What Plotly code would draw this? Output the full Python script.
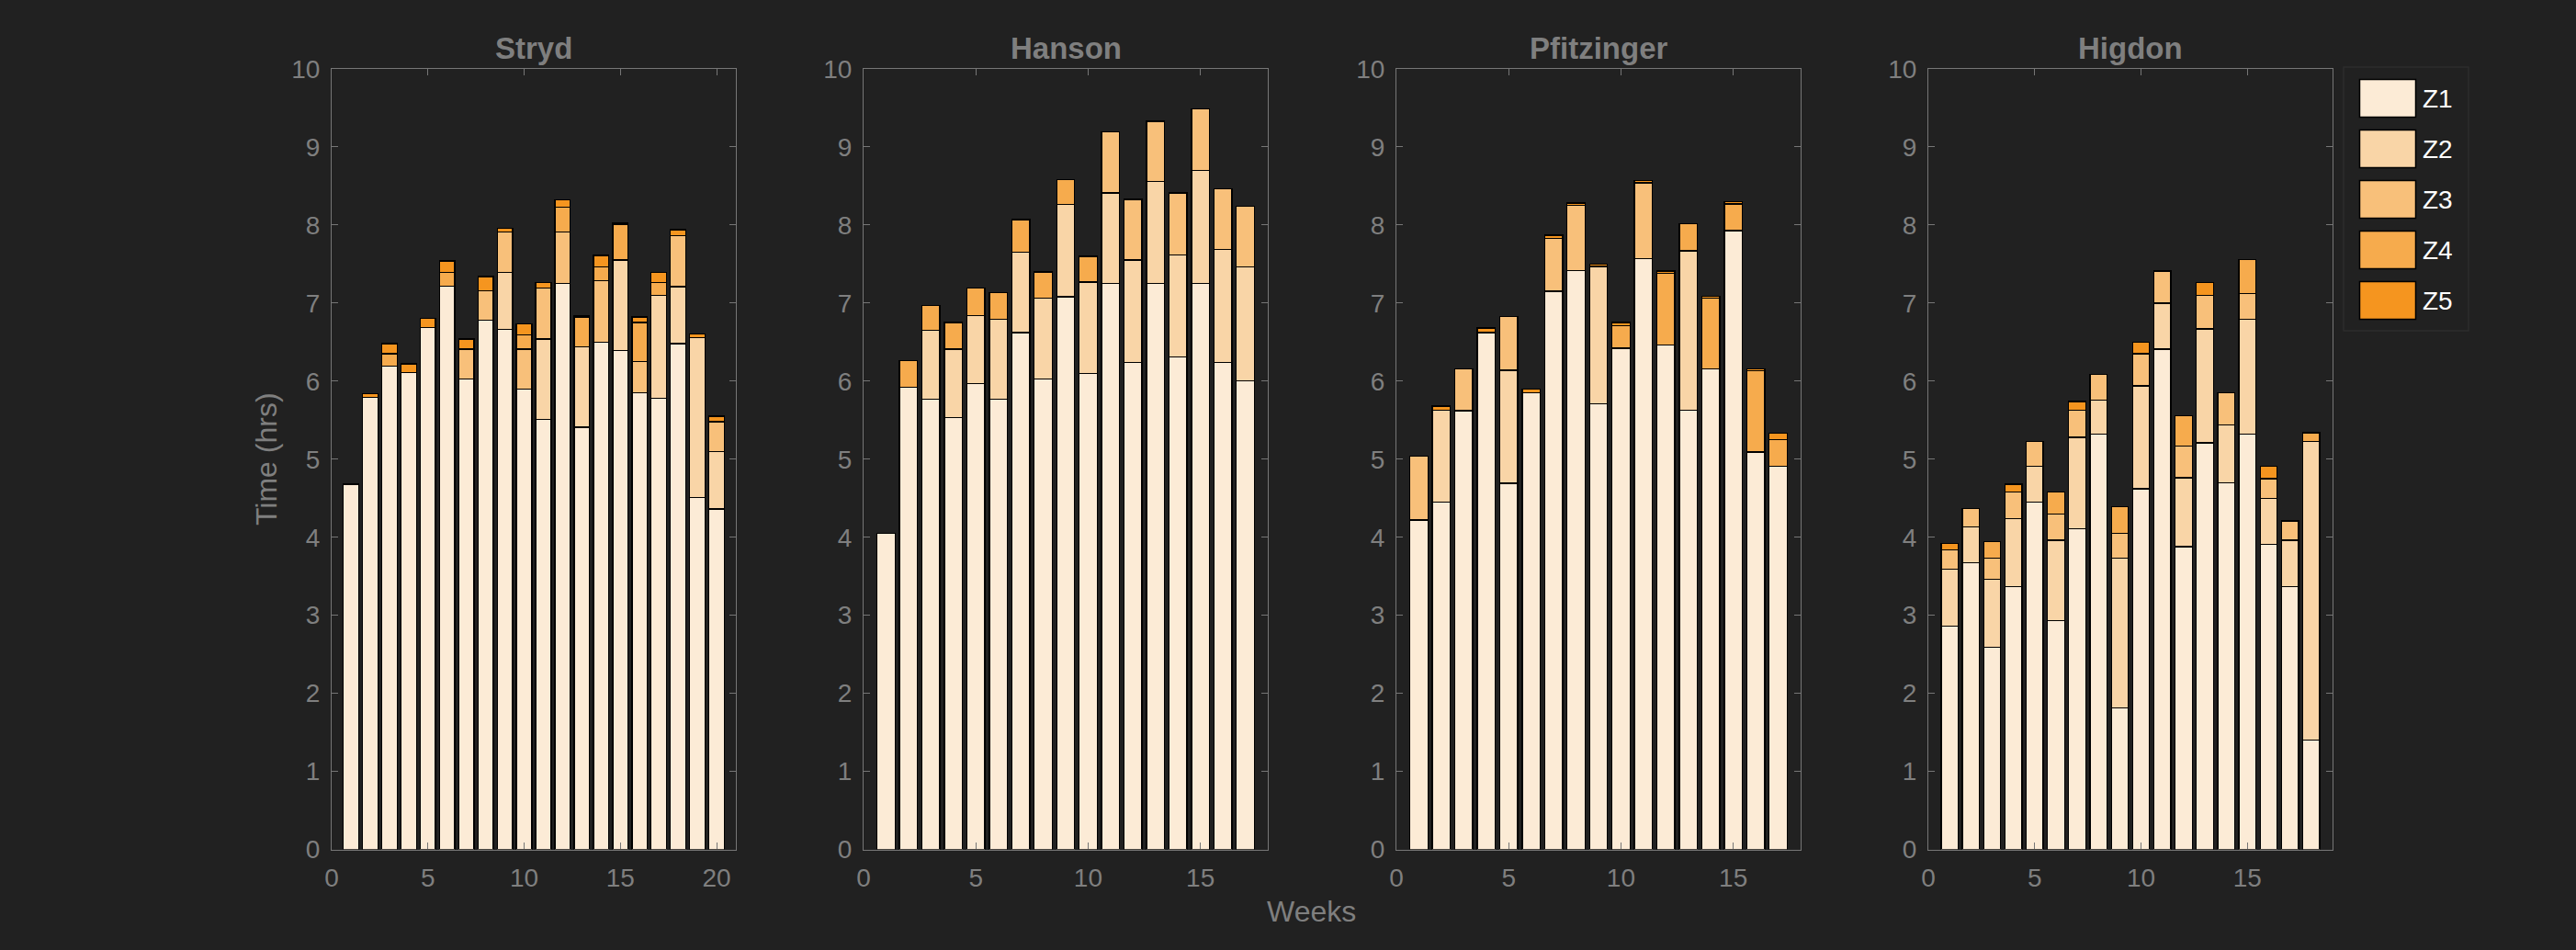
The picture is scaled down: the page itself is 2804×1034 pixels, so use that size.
import plotly.graph_objects as go

W, H = 2804, 1034

zones = ["Z1", "Z2", "Z3", "Z4", "Z5"]
zone_colors = ["#FCEBD6", "#F9D5A7", "#F8C07A", "#F6AB4D", "#F5951F"]

plan_names = ["Stryd", "Hanson", "Pfitzinger", "Higdon"]

stryd_z1 = [4.68, 5.79, 6.19, 6.11, 6.69, 7.22, 6.03, 6.78, 6.66, 5.90, 5.51, 7.25, 5.41, 6.50, 6.39, 5.85, 5.78, 6.48, 4.51, 4.36]
stryd_z2 = [0, 0, 0, 0, 0, 0, 0, 0, 0.73, 0, 1.03, 0, 1.03, 0, 1.16, 0, 1.32, 0.73, 2.05, 0.74]
stryd_z3 = [0, 0, 0, 0, 0, 0, 0.38, 0.38, 0.52, 0.51, 0.65, 0.66, 0, 0.79, 0, 0.40, 0, 0.65, 0, 0.38]
stryd_z4 = [0, 0, 0.16, 0, 0, 0.17, 0, 0, 0, 0.18, 0, 0.32, 0.38, 0.17, 0.46, 0.50, 0.16, 0, 0, 0]
stryd_z5 = [0, 0.05, 0.13, 0.11, 0.11, 0.15, 0.13, 0.18, 0.05, 0.14, 0.07, 0.09, 0.02, 0.15, 0.02, 0.07, 0.13, 0.08, 0.04, 0.07]

hanson_z1 = [4.05, 5.92, 5.77, 5.53, 5.97, 5.77, 6.62, 6.03, 7.08, 6.10, 7.25, 6.24, 7.25, 6.31, 7.25, 6.24, 6.00]
hanson_z2 = [0, 0, 0.88, 0.88, 0.87, 1.02, 1.03, 1.03, 1.18, 1.17, 1.16, 1.31, 1.31, 1.31, 1.45, 1.45, 1.46]
hanson_z3 = [0, 0, 0, 0, 0, 0, 0, 0, 0, 0, 0.78, 0.78, 0.77, 0.79, 0.79, 0.77, 0.78]
hanson_z4 = [0, 0.34, 0.32, 0.34, 0.35, 0.34, 0.42, 0.34, 0.32, 0.33, 0, 0, 0, 0, 0, 0, 0]
hanson_z5 = [0] * 17

pfitz_z1 = [4.22, 4.45, 5.62, 6.62, 4.69, 5.85, 7.15, 7.42, 5.71, 6.42, 7.57, 6.46, 5.63, 6.16, 7.93, 5.09, 4.91]
pfitz_z2 = [0, 1.18, 0, 0, 1.45, 0, 0, 0, 1.76, 0, 0, 0, 2.04, 0, 0, 0, 0]
pfitz_z3 = [0.82, 0, 0.54, 0, 0.69, 0, 0.68, 0.83, 0, 0, 0.97, 0, 0, 0, 0, 0, 0]
pfitz_z4 = [0, 0, 0, 0, 0, 0, 0, 0, 0, 0.29, 0, 0.92, 0.35, 0.90, 0.34, 1.04, 0.34]
pfitz_z5 = [0, 0.05, 0, 0.06, 0, 0.05, 0.04, 0.03, 0.03, 0.04, 0.03, 0.03, 0, 0.03, 0.03, 0.03, 0.08]

higdon_z1 = [2.86, 3.67, 2.59, 3.37, 4.45, 2.93, 4.11, 5.32, 1.81, 4.62, 6.41, 3.88, 5.21, 4.70, 5.32, 3.91, 3.37, 1.40]
higdon_z2 = [0.73, 0.46, 0.87, 0.87, 0.46, 1.03, 1.17, 0.44, 1.92, 1.32, 0.59, 0.88, 1.46, 0.74, 1.47, 0.59, 0.59, 3.83]
higdon_z3 = [0.25, 0.24, 0.27, 0.34, 0.32, 0.34, 0.35, 0.33, 0.32, 0.41, 0.41, 0.41, 0.43, 0.41, 0.33, 0.25, 0.25, 0]
higdon_z4 = [0, 0, 0.21, 0, 0, 0.28, 0, 0, 0.34, 0, 0, 0.39, 0, 0, 0.44, 0, 0, 0.11]
higdon_z5 = [0.08, 0, 0, 0.10, 0, 0, 0.11, 0, 0, 0.15, 0, 0, 0.16, 0, 0, 0.16, 0, 0]

x_limits = [21, 18, 18, 19]
x_tick_vals = [0, 5, 10, 15, 20]
y_tick_vals = list(range(0, 11))

plans = [
    [stryd_z1, stryd_z2, stryd_z3, stryd_z4, stryd_z5],
    [hanson_z1, hanson_z2, hanson_z3, hanson_z4, hanson_z5],
    [pfitz_z1, pfitz_z2, pfitz_z3, pfitz_z4, pfitz_z5],
    [higdon_z1, higdon_z2, higdon_z3, higdon_z4, higdon_z5],
]

# pixel layout
px_left = [361, 940, 1520, 2099]
px_width = 440
px_top, px_bottom = 75, 924.5

BG = "#212121"
AX = "#767676"
TXT = "#7f7f7f"
FONT = "Liberation Sans, Arial, Helvetica, sans-serif"

fig = go.Figure()

for i, (name, series) in enumerate(zip(plan_names, plans)):
    xa = "x" if i == 0 else f"x{i+1}"
    ya = "y" if i == 0 else f"y{i+1}"
    weeks = list(range(1, len(series[0]) + 1))
    for z, vals, col in zip(zones, series, zone_colors):
        fig.add_trace(go.Bar(
            x=weeks,
            y=[v if v > 0 else None for v in vals],
            name=z,
            marker=dict(color=col, line=dict(color="#000000", width=1.3)),
            width=0.8,
            xaxis=xa, yaxis=ya,
            showlegend=False,
        ))
    dom_x = [px_left[i] / W, (px_left[i] + px_width) / W]
    dom_y = [1 - px_bottom / H, 1 - px_top / H]
    axis_common = dict(
        showline=True, linecolor=AX, linewidth=1.2, mirror="ticks",
        ticks="inside", ticklen=7, tickwidth=1.2, tickcolor=AX,
        showgrid=False, zeroline=False, automargin=False,
        tickfont=dict(family=FONT, size=28, color=TXT),
        ticklabelstandoff=6,
    )
    xkey = "xaxis" if i == 0 else f"xaxis{i+1}"
    ykey = "yaxis" if i == 0 else f"yaxis{i+1}"
    fig.update_layout(**{
        xkey: dict(domain=dom_x, range=[0, x_limits[i]],
                   tickvals=[t for t in x_tick_vals if t <= x_limits[i]],
                   anchor=ya, **axis_common),
        ykey: dict(domain=dom_y, range=[0, 10], tickvals=y_tick_vals,
                   anchor=xa, **axis_common),
    })
    fig.add_annotation(
        text=f"<b>{name}</b>", xref="paper", yref="paper",
        x=(px_left[i] + px_width / 2) / W, y=1 - 53 / H,
        xanchor="center", yanchor="middle", showarrow=False,
        font=dict(family=FONT, size=33, color=TXT),
    )

# axis labels
fig.add_annotation(text="Weeks", xref="paper", yref="paper",
                   x=1427 / W, y=1 - 992 / H, xanchor="center", yanchor="middle",
                   showarrow=False, font=dict(family=FONT, size=32, color=TXT))
fig.add_annotation(text="Time (hrs)", xref="paper", yref="paper",
                   x=290 / W, y=1 - 500 / H, xanchor="center", yanchor="middle",
                   textangle=-90, showarrow=False,
                   font=dict(family=FONT, size=32, color=TXT))

# legend (drawn manually to mimic large swatches)
shapes = [dict(type="rect", xref="paper", yref="paper",
               x0=2551 / W, x1=2687 / W, y0=1 - 360 / H, y1=1 - 73 / H,
               line=dict(color="#2c2c2c", width=1.5), fillcolor=BG, layer="below")]
for k, (z, col) in enumerate(zip(zones, zone_colors)):
    top = 86.5 + 55 * k
    shapes.append(dict(type="rect", xref="paper", yref="paper",
                       x0=2568.5 / W, x1=2629.5 / W,
                       y0=1 - (top + 41) / H, y1=1 - top / H,
                       line=dict(color="#000000", width=1.5), fillcolor=col))
    fig.add_annotation(text=z, xref="paper", yref="paper",
                       x=2635 / W, y=1 - (top + 21) / H, xanchor="left", yanchor="middle",
                       showarrow=False, font=dict(family=FONT, size=28, color="#ffffff"))

fig.update_layout(
    template="none",
    width=W, height=H,
    margin=dict(l=0, r=0, t=0, b=0, pad=0, autoexpand=False),
    paper_bgcolor=BG, plot_bgcolor=BG,
    barmode="stack", bargap=0.2,
    showlegend=False,
    shapes=shapes,
)

fig.write_html("out.html", config={"displayModeBar": False},
               post_script="document.body.style.margin='0';document.body.style.background='#212121';")
